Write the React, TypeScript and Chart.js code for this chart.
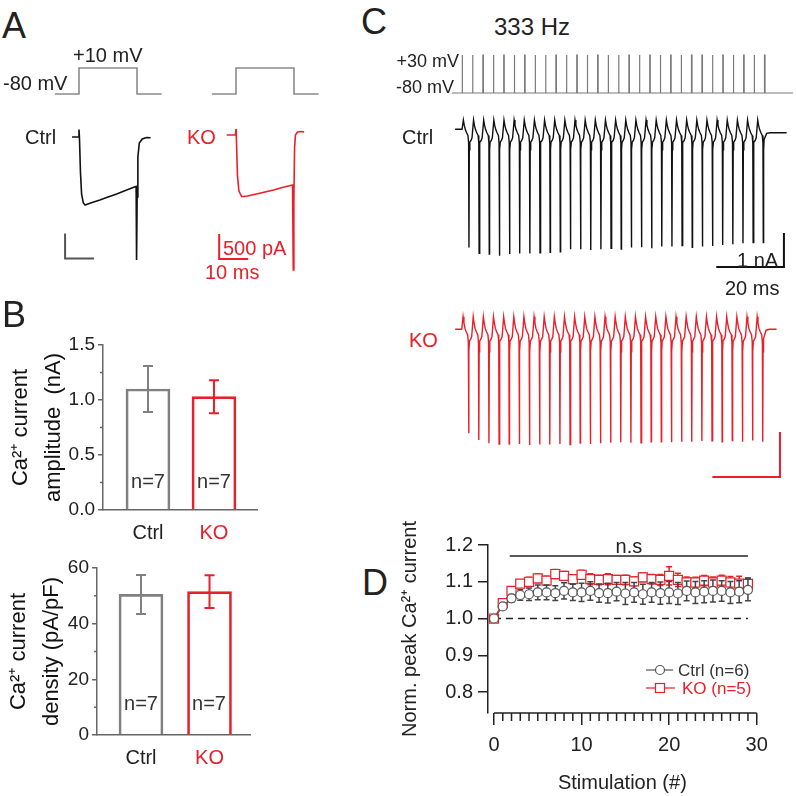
import React, { useEffect, useRef } from 'react';
import { Chart, registerables } from 'chart.js';

Chart.register(...registerables);
const FONT = "'Liberation Sans', Arial, Helvetica, sans-serif";
Chart.defaults.font.family = FONT;
Chart.defaults.color = '#222';

const RED = '#e8202a';
const GREY = '#808080';
const DARK = '#222222';

// ---------------- Panel A : single step (ms, mV, pA) ----------------
const STEP_A_MS = [-8.3, 0, 0, 20, 20, 28.5];
const STEP_A_MV = [-80, -80, 10, 10, -80, -80];
const CTRL_A_MS = [-2.4, -0.2, 0, 0.15, 0.5, 0.9, 1.5, 2.1, 4, 7.2, 10, 13, 16, 19.3, 19.7, 19.85, 20.05, 20.3, 20.8, 21.8, 23.3, 24.7];
const CTRL_A_PA = [0, 0, 150, 0, -700, -1150, -1320, -1360, -1320, -1260, -1200, -1140, -1070, -995, -990, -2460, -1200, -400, -120, -40, -10, -15];
const KO_A_MS = [-3.2, -0.2, 0, 0.1, 0.5, 1.0, 2.0, 4, 7, 10, 13, 16, 19.5, 19.6, 19.75, 19.95, 20.2, 20.5, 21.2, 22.5, 23.5];
const KO_A_PA = [0, 0, 120, 0, -800, -1120, -1235, -1220, -1180, -1140, -1100, -1050, -1000, -1000, -2700, -1300, -250, 0, 60, 70, 60];
const SCALE_A_MS = 10;
const SCALE_A_PA = 500;
const CTRL_A_BAR = [-4.8, -2430];
const KO_A_BAR = [-5.8, -2480];

// ---------------- Panel B : bar summaries ----------------
const GROUPS = ['Ctrl', 'KO'];
const AMP_NA = [1.10, 1.03];
const AMP_SEM = [0.21, 0.15];
const DENSITY = [50.5, 51.5];
const DENSITY_SEM = [7.0, 5.9];
const N_CELLS = [7, 7];
const AMP_TICKS = [0, 0.5, 1.0, 1.5];
const AMP_MINOR = [0.25, 0.75, 1.25];
const DENS_TICKS = [0, 20, 40, 60];
const DENS_MINOR = [10, 30, 50];

// ---------------- Panel C : 333 Hz train ----------------
const PULSE_MS = [0, 3, 6, 9, 12, 15, 18, 21, 24, 27, 30, 33, 36, 39, 42, 45, 48, 51, 54, 57, 60, 63, 66, 69, 72, 75, 78, 81, 84, 87];
const PULSE_WIDTH_MS = 0.15;
const STIM_LEVELS_MV = [-80, 30];
const STIM_SPAN_MS = [-2.9, 95.2];
const CYCLE_MS = [0.35, 0.6, 0.9, 1.3, 1.7, 1.9, 2.0, 2.1, 2.25, 2.6, 2.9];
const SPIKE_INDEX = 6;
const CTRL_CYCLE_NA = [0.27, 0.12, 0.0, -0.1, -0.18, -0.4, 0, -0.6, -0.38, -0.33, -0.25];
const KO_CYCLE_NA = [0.28, 0.14, 0.02, -0.06, -0.12, -0.3, 0, -0.5, -0.26, -0.22, -0.16];
const CTRL_C_PEAK_NA = [3.48, 3.65, 3.67, 3.72, 3.67, 3.65, 3.65, 3.63, 3.62, 3.60, 3.53, 3.53, 3.55, 3.53, 3.50, 3.52, 3.48, 3.47, 3.50, 3.45, 3.45, 3.42, 3.47, 3.45, 3.43, 3.40, 3.38, 3.35, 3.33, 3.33];
const KO_C_PEAK_NA = [2.31, 2.46, 2.53, 2.55, 2.55, 2.55, 2.57, 2.56, 2.56, 2.55, 2.56, 2.53, 2.55, 2.53, 2.52, 2.51, 2.52, 2.52, 2.50, 2.50, 2.51, 2.50, 2.50, 2.48, 2.48, 2.50, 2.47, 2.50, 2.47, 2.50];
const TAIL_MS = [0.1, 0.25, 1.0, 2.0];
const CTRL_TAIL_NA = [-0.6, -0.3, -0.12, -0.1];
const KO_TAIL_NA = [-0.5, -0.2, -0.02, 0.0];
const CTRL_C_SPAN_MS = [-2.1, 95.9];
const KO_C_SPAN_MS = [-2.0, 93.1];
const SCALE_C_MS = 20;
const SCALE_C_NA = 1;
const CTRL_C_BAR = [95.1, -4.05];
const KO_C_BAR = [94.1, -3.28];

// ---------------- Panel D : normalised peak current ----------------
const STIM_N = [0, 1, 2, 3, 4, 5, 6, 7, 8, 9, 10, 11, 12, 13, 14, 15, 16, 17, 18, 19, 20, 21, 22, 23, 24, 25, 26, 27, 28, 29];
const CTRL_D = [1.000, 1.033, 1.055, 1.064, 1.066, 1.071, 1.071, 1.069, 1.075, 1.071, 1.071, 1.075, 1.069, 1.069, 1.073, 1.068, 1.071, 1.066, 1.071, 1.069, 1.071, 1.068, 1.075, 1.071, 1.073, 1.075, 1.075, 1.071, 1.073, 1.078];
const CTRL_D_SEM = [0, 0.004, 0.01, 0.014, 0.017, 0.02, 0.02, 0.02, 0.022, 0.022, 0.025, 0.025, 0.025, 0.027, 0.025, 0.03, 0.027, 0.027, 0.027, 0.03, 0.03, 0.03, 0.027, 0.03, 0.03, 0.03, 0.028, 0.03, 0.03, 0.03];
const KO_D = [1.000, 1.042, 1.075, 1.095, 1.100, 1.109, 1.103, 1.121, 1.116, 1.107, 1.119, 1.107, 1.105, 1.107, 1.105, 1.105, 1.101, 1.112, 1.107, 1.105, 1.116, 1.105, 1.098, 1.098, 1.103, 1.098, 1.103, 1.098, 1.095, 1.094];
const KO_D_SEM = [0, 0.006, 0.01, 0.01, 0.012, 0.012, 0.012, 0.012, 0.012, 0.012, 0.012, 0.015, 0.013, 0.015, 0.012, 0.013, 0.012, 0.012, 0.013, 0.015, 0.025, 0.018, 0.015, 0.014, 0.014, 0.015, 0.015, 0.016, 0.02, 0.017];
const D_Y_TICKS = [0.8, 0.9, 1.0, 1.1, 1.2];
const D_X_TICKS = [0, 10, 20, 30];
const D_BASELINE = 1.0;
const NS_SPAN = [1.8, 29];
const NS_LEVEL = 1.17;
const D_LEGEND = ['Ctrl (n=6)', 'KO (n=5)'];

// ---------------- helpers ----------------
type Box = [number, number, number, number];
type Pt = { x: number; y: number };

const pts = (xs: number[], ys: number[]): Pt[] => xs.map((x, i) => ({ x, y: ys[i] }));

function axisRange(start: number, len: number, anchorPx: number, anchorVal: number, k: number, vertical: boolean) {
  if (!vertical) {
    const min = anchorVal - (anchorPx - start) / k;
    return { min, max: min + len / k };
  }
  const max = anchorVal + (anchorPx - start) / k;
  return { min: max - len / k, max };
}

function line(data: Pt[], color: string, width: number, yAxisID: string, extra: any = {}) {
  return { data, showLine: true, pointRadius: 0, borderColor: color, backgroundColor: color, borderWidth: width, yAxisID, clip: false, tension: 0, fill: false, ...extra };
}

function traceChart(box: Box, xa: [number, number, number], ya: Record<string, [number, number, number]>, datasets: any[]) {
  const [l, t, w, h] = box;
  const xr = axisRange(l, w, xa[0], xa[1], xa[2], false);
  const scales: any = { x: { type: 'linear', display: false, min: xr.min, max: xr.max } };
  Object.keys(ya).forEach((id) => {
    const [py, v, k] = ya[id];
    const r = axisRange(t, h, py, v, k, true);
    scales[id] = { type: 'linear', display: false, min: r.min, max: r.max };
  });
  return {
    type: 'scatter',
    data: { datasets },
    options: {
      responsive: false, maintainAspectRatio: false, animation: false, events: [],
      layout: { padding: 0 },
      plugins: { legend: { display: false }, tooltip: { enabled: false } },
      scales,
    },
  };
}

function drawErr(chart: any, index: number, phase: string) {
  const ds: any = chart.data.datasets[index];
  if (!ds.errors || (ds.errorPhase || 'after') !== phase) return;
  const meta = chart.getDatasetMeta(index);
  const ys = chart.scales[meta.yAxisID];
  const ctx = chart.ctx;
  ctx.save();
  meta.data.forEach((el: any, i: number) => {
    const d = ds.data[i];
    const v = typeof d === 'object' ? d.y : d;
    const e = ds.errors[i];
    if (!e) return;
    const col = Array.isArray(ds.errorColor) ? ds.errorColor[i] : ds.errorColor;
    const y1 = ys.getPixelForValue(v + e);
    const y2 = ys.getPixelForValue(v - e);
    const c = ds.capHalf || 4;
    ctx.strokeStyle = col;
    ctx.lineWidth = ds.errorWidth || 1.5;
    ctx.beginPath();
    ctx.moveTo(el.x, y1); ctx.lineTo(el.x, y2);
    ctx.moveTo(el.x - c, y1); ctx.lineTo(el.x + c, y1);
    ctx.moveTo(el.x - c, y2); ctx.lineTo(el.x + c, y2);
    ctx.stroke();
  });
  ctx.restore();
}

const errorBarPlugin = {
  id: 'errorBars',
  beforeDatasetDraw(chart: any, args: any) { drawErr(chart, args.index, 'before'); },
  afterDatasetDraw(chart: any, args: any) { drawErr(chart, args.index, 'after'); },
};

function minorTicks(axis: string, values: number[], length: number, color: string, width: number) {
  return {
    id: 'minor_' + axis,
    afterDraw(chart: any) {
      const s = chart.scales[axis];
      const ctx = chart.ctx;
      const ca = chart.chartArea;
      ctx.save();
      ctx.strokeStyle = color;
      ctx.lineWidth = width;
      ctx.beginPath();
      values.forEach((v) => {
        const p = s.getPixelForValue(v);
        if (s.isHorizontal()) { ctx.moveTo(p, ca.bottom); ctx.lineTo(p, ca.bottom + length); }
        else { ctx.moveTo(ca.left, p); ctx.lineTo(ca.left - length, p); }
      });
      ctx.stroke();
      ctx.restore();
    },
  };
}

// ---------------- chart builders ----------------
const BOX_A_CTRL: Box = [40, 45, 135, 235];
const BOX_A_KO: Box = [195, 45, 140, 235];
const BOX_B_TOP: Box = [0, 290, 270, 250];
const BOX_B_BOT: Box = [0, 545, 270, 251];
const BOX_C_STIM: Box = [445, 40, 351, 65];
const BOX_C_CTRL: Box = [445, 105, 351, 175];
const BOX_C_KO: Box = [445, 300, 351, 185];
const BOX_D: Box = [390, 520, 406, 276];

function makeA(isKO: boolean) {
  const box = isKO ? BOX_A_KO : BOX_A_CTRL;
  const corner = isKO ? KO_A_BAR : CTRL_A_BAR;
  const bar = [
    { x: corner[0], y: corner[1] + SCALE_A_PA },
    { x: corner[0], y: corner[1] },
    { x: corner[0] + SCALE_A_MS, y: corner[1] },
  ];
  return traceChart(
    box,
    [isKO ? 236 : 79, 0, 2.9],
    { y: [isKO ? 135 : 137, 0, 0.05], yv: [94, -80, 26 / 90] },
    [
      line(pts(STEP_A_MS, STEP_A_MV), '#8a8a8a', 1.6, 'yv'),
      line(isKO ? pts(KO_A_MS, KO_A_PA) : pts(CTRL_A_MS, CTRL_A_PA), isKO ? RED : '#111', 1.6, 'y'),
      line(bar, isKO ? RED : '#555', 2, 'y'),
    ],
  );
}

function stimPoints(): Pt[] {
  const [lo, hi] = STIM_LEVELS_MV;
  const p: Pt[] = [{ x: STIM_SPAN_MS[0], y: lo }];
  PULSE_MS.forEach((t) => {
    p.push({ x: t, y: lo }, { x: t, y: hi }, { x: t + PULSE_WIDTH_MS, y: hi }, { x: t + PULSE_WIDTH_MS, y: lo });
  });
  p.push({ x: STIM_SPAN_MS[1], y: lo });
  return p;
}

function trainPoints(peaks: number[], shape: number[], span: number[], tail: number[]): Pt[] {
  const p: Pt[] = [{ x: span[0], y: 0 }, { x: PULSE_MS[0] - 0.05, y: 0 }];
  PULSE_MS.forEach((t, k) => {
    const last = k === PULSE_MS.length - 1;
    CYCLE_MS.forEach((dt, j) => {
      if (last && j > SPIKE_INDEX) return;
      p.push({ x: t + dt, y: j === SPIKE_INDEX ? -peaks[k] : shape[j] });
    });
  });
  const ls = PULSE_MS[PULSE_MS.length - 1] + CYCLE_MS[SPIKE_INDEX];
  TAIL_MS.forEach((dt, i) => p.push({ x: ls + dt, y: tail[i] }));
  p.push({ x: span[1], y: tail[tail.length - 1] });
  return p;
}

function makeStim() {
  return traceChart(BOX_C_STIM, [462, 0, 3.477], { y: [93, -80, 0.3455] }, [line(stimPoints(), '#7a7a7a', 1.2, 'y')]);
}

function makeTrain(isKO: boolean) {
  const corner = isKO ? KO_C_BAR : CTRL_C_BAR;
  const col = isKO ? RED : '#111';
  const bar = [
    { x: corner[0], y: corner[1] + SCALE_C_NA },
    { x: corner[0], y: corner[1] },
    { x: corner[0] - SCALE_C_MS, y: corner[1] },
  ];
  const data = isKO
    ? trainPoints(KO_C_PEAK_NA, KO_CYCLE_NA, KO_C_SPAN_MS, KO_TAIL_NA)
    : trainPoints(CTRL_C_PEAK_NA, CTRL_CYCLE_NA, CTRL_C_SPAN_MS, CTRL_TAIL_NA);
  return traceChart(
    isKO ? BOX_C_KO : BOX_C_CTRL,
    isKO ? [461.9, 0, 3.38] : [462.2, 0, 3.383],
    { y: isKO ? [329.3, 0, 45] : [129.3, 0, 34] },
    [line(data, col, 1.4, 'y'), line(bar, col, 2, 'y')],
  );
}

function makeBar(o: {
  box: Box; means: number[]; sems: number[]; yMax: number; yTicks: number[]; yMinor: number[];
  fmt: (v: number) => string; title: string[]; xMin: number; xMax: number;
  area: [number, number, number, number]; titlePad: number;
}) {
  const [l, t, w, h] = o.box;
  const [aL, aT, aR, aB] = o.area;
  return {
    type: 'bar',
    data: {
      datasets: [{
        data: o.means.map((m, i) => ({ x: i + 1, y: m })),
        backgroundColor: 'rgba(255,255,255,0)',
        borderColor: [GREY, RED],
        borderWidth: 2,
        barThickness: 44,
        errors: o.sems,
        errorColor: [GREY, RED],
        errorWidth: 2,
        capHalf: 5,
      }],
    },
    options: {
      responsive: false, maintainAspectRatio: false, animation: false, events: [],
      layout: { padding: { left: 0, top: aT - t, right: l + w - aR, bottom: 0 } },
      plugins: { legend: { display: false }, tooltip: { enabled: false } },
      scales: {
        x: {
          type: 'linear', offset: false, min: o.xMin, max: o.xMax,
          afterBuildTicks: (s: any) => { s.ticks = GROUPS.map((_, i) => ({ value: i + 1 })); },
          ticks: {
            callback: (v: any) => GROUPS[Math.round(v) - 1],
            font: { size: 20 },
            color: (c: any) => (c.tick && c.tick.value === 2 ? RED : DARK),
            padding: 11, maxRotation: 0, autoSkip: false,
          },
          grid: { display: false, drawTicks: false },
          border: { display: true, color: '#666', width: 1.5 },
          afterFit: (s: any) => { s.height = t + h - aB; },
        },
        y: {
          type: 'linear', min: 0, max: o.yMax,
          afterBuildTicks: (s: any) => { s.ticks = o.yTicks.map((v) => ({ value: v })); },
          ticks: { callback: (v: any) => o.fmt(v), font: { size: 19 }, color: DARK, padding: 3 },
          grid: { drawOnChartArea: false, drawTicks: true, tickLength: 5, color: '#666', lineWidth: 1.5 },
          border: { display: true, color: '#666', width: 1.5 },
          title: { display: true, text: o.title, font: { size: 22, lineHeight: 1.5 }, color: '#111', padding: { top: o.titlePad, bottom: 0 } },
          afterFit: (s: any) => { s.width = aL - l; },
        },
      },
    },
    plugins: [errorBarPlugin, minorTicks('y', o.yMinor, 3, '#666', 1.5)],
  };
}

function makeD() {
  const [l, t, w, h] = BOX_D;
  const aL = 488, aT = 545, aR = 756.7, aB = 713;
  const decor = {
    id: 'panelD',
    afterDraw(chart: any) {
      const ctx = chart.ctx;
      const xs = chart.scales.x, ys = chart.scales.y;
      const ca = chart.chartArea;
      ctx.save();
      ctx.strokeStyle = DARK; ctx.lineWidth = 1.5;
      ctx.beginPath();
      ctx.moveTo(xs.getPixelForValue(D_X_TICKS[0]), ca.bottom);
      ctx.lineTo(xs.getPixelForValue(D_X_TICKS[D_X_TICKS.length - 1]), ca.bottom);
      STIM_N.forEach((n) => {
        if (n % 10 === 0) return;
        const x = xs.getPixelForValue(n);
        ctx.moveTo(x, ca.bottom); ctx.lineTo(x, ca.bottom + 8);
      });
      ctx.stroke();
      const yN = ys.getPixelForValue(NS_LEVEL);
      ctx.beginPath();
      ctx.moveTo(xs.getPixelForValue(NS_SPAN[0]), yN);
      ctx.lineTo(xs.getPixelForValue(NS_SPAN[1]), yN);
      ctx.stroke();
      ctx.fillStyle = DARK;
      ctx.font = `20px ${FONT}`;
      ctx.textAlign = 'center'; ctx.textBaseline = 'alphabetic';
      ctx.fillText('n.s', xs.getPixelForValue((NS_SPAN[0] + NS_SPAN[1]) / 2), yN - 3);
      const lx = 646 - l;
      const rows = [670 - t, 688 - t];
      ctx.textAlign = 'left'; ctx.textBaseline = 'middle';
      ctx.font = `17px ${FONT}`;
      ctx.strokeStyle = '#555'; ctx.lineWidth = 1.2;
      ctx.beginPath(); ctx.moveTo(lx, rows[0]); ctx.lineTo(lx + 27, rows[0]); ctx.stroke();
      ctx.beginPath(); ctx.arc(lx + 14, rows[0], 4.5, 0, Math.PI * 2); ctx.fillStyle = '#fff'; ctx.fill(); ctx.stroke();
      ctx.fillStyle = '#333'; ctx.fillText(D_LEGEND[0], lx + 32, rows[0] + 1);
      ctx.strokeStyle = RED;
      ctx.beginPath(); ctx.moveTo(lx, rows[1]); ctx.lineTo(lx + 29, rows[1]); ctx.stroke();
      ctx.fillStyle = '#fff'; ctx.fillRect(lx + 9.5, rows[1] - 4.5, 9, 9); ctx.strokeRect(lx + 9.5, rows[1] - 4.5, 9, 9);
      ctx.fillStyle = RED; ctx.fillText(D_LEGEND[1], lx + 36, rows[1] + 1);
      ctx.restore();
    },
  };
  return {
    type: 'scatter',
    data: {
      datasets: [
        {
          data: pts(STIM_N, CTRL_D), showLine: true, clip: false,
          pointStyle: 'circle', pointRadius: 4.5, pointBackgroundColor: '#fff', pointBorderColor: '#555', pointBorderWidth: 1.2,
          borderColor: '#555', borderWidth: 1.2,
          errors: CTRL_D_SEM, errorColor: '#444', errorWidth: 1.5, capHalf: 3, errorPhase: 'before',
        },
        {
          data: pts(STIM_N, KO_D), showLine: true, clip: false,
          pointStyle: 'rect', pointRadius: 6.4, pointBackgroundColor: '#fff', pointBorderColor: RED, pointBorderWidth: 1.2,
          borderColor: RED, borderWidth: 1.2,
          errors: KO_D_SEM, errorColor: RED, errorWidth: 1.5, capHalf: 3, errorPhase: 'before',
        },
        {
          data: [{ x: STIM_N[0], y: D_BASELINE }, { x: STIM_N[STIM_N.length - 1], y: D_BASELINE }],
          showLine: true, pointRadius: 0, borderColor: DARK, borderWidth: 1.5, borderDash: [7, 5], clip: false,
        },
      ],
    },
    options: {
      responsive: false, maintainAspectRatio: false, animation: false, events: [],
      layout: { padding: { left: 0, top: aT - t, right: l + w - aR, bottom: 0 } },
      plugins: { legend: { display: false }, tooltip: { enabled: false } },
      scales: {
        x: {
          type: 'linear', min: -0.685, max: 30,
          afterBuildTicks: (s: any) => { s.ticks = D_X_TICKS.map((v) => ({ value: v })); },
          ticks: { font: { size: 20 }, color: DARK, padding: 8, maxRotation: 0, autoSkip: false, callback: (v: any) => String(v) },
          grid: { drawOnChartArea: false, drawTicks: true, tickLength: 12, color: DARK, lineWidth: 1.5 },
          border: { display: false },
          title: { display: true, text: 'Stimulation (#)', font: { size: 20 }, color: DARK, padding: { top: 0, bottom: 1 } },
          afterFit: (s: any) => { s.height = t + h - aB; },
        },
        y: {
          type: 'linear', min: 0.7429, max: 1.2,
          afterBuildTicks: (s: any) => { s.ticks = D_Y_TICKS.map((v) => ({ value: v })); },
          ticks: { font: { size: 20 }, color: DARK, padding: 5, callback: (v: any) => Number(v).toFixed(1) },
          grid: { drawOnChartArea: false, drawTicks: true, tickLength: 10, color: DARK, lineWidth: 1.5 },
          border: { display: true, color: DARK, width: 1.5 },
          title: { display: true, text: 'Norm. peak Ca²⁺ current', font: { size: 20 }, color: DARK, padding: { top: 8, bottom: 0 } },
          afterFit: (s: any) => { s.width = aL - l; },
        },
      },
    },
    plugins: [errorBarPlugin, decor],
  };
}

// ---------------- React ----------------
function ChartBox({ box, make }: { box: Box; make: () => any }) {
  const ref = useRef<HTMLCanvasElement>(null);
  useEffect(() => {
    const chart = new Chart(ref.current as HTMLCanvasElement, make());
    return () => chart.destroy();
  }, []);
  const [l, t, w, h] = box;
  return <canvas ref={ref} width={w} height={h} style={{ position: 'absolute', left: l, top: t, width: w, height: h }} />;
}

function Label({ text, x, cy, size, color = DARK, align = 'left' }: { text: string; x: number; cy: number; size: number; color?: string; align?: 'left' | 'center' | 'right' }) {
  const tx = align === 'center' ? 'translateX(-50%)' : align === 'right' ? 'translateX(-100%)' : undefined;
  return (
    <div style={{
      position: 'absolute', left: x, top: cy - size / 2, fontSize: size, lineHeight: 1, color,
      whiteSpace: 'nowrap', fontFamily: FONT, transform: tx,
    }}>{text}</div>
  );
}

export default function App() {
  return (
    <div style={{ position: 'absolute', left: 0, top: 0, width: 796, height: 796, background: '#fff', overflow: 'hidden' }}>
      <ChartBox box={BOX_A_CTRL} make={() => makeA(false)} />
      <ChartBox box={BOX_A_KO} make={() => makeA(true)} />
      <ChartBox box={BOX_B_TOP} make={() => makeBar({
        box: BOX_B_TOP, means: AMP_NA, sems: AMP_SEM, yMax: 1.5, yTicks: AMP_TICKS, yMinor: AMP_MINOR,
        fmt: (v) => v.toFixed(1), title: ['Ca²⁺ current', 'amplitude  (nA)'], xMin: 0.318, xMax: 2.652,
        area: [103, 345, 257, 510], titlePad: 4,
      })} />
      <ChartBox box={BOX_B_BOT} make={() => makeBar({
        box: BOX_B_BOT, means: DENSITY, sems: DENSITY_SEM, yMax: 60, yTicks: DENS_TICKS, yMinor: DENS_MINOR,
        fmt: (v) => String(v), title: ['Ca²⁺ current', 'density (pA/pF)'], xMin: 0.358, xMax: 2.591,
        area: [97, 568, 250, 735], titlePad: 2,
      })} />
      <ChartBox box={BOX_C_STIM} make={makeStim} />
      <ChartBox box={BOX_C_CTRL} make={() => makeTrain(false)} />
      <ChartBox box={BOX_C_KO} make={() => makeTrain(true)} />
      <ChartBox box={BOX_D} make={makeD} />

      <Label text="A" x={2} cy={26} size={36} />
      <Label text="+10 mV" x={73} cy={55} size={20} />
      <Label text="-80 mV" x={3} cy={83} size={20} />
      <Label text="Ctrl" x={25} cy={137} size={20} />
      <Label text="KO" x={187} cy={137} size={20} color={RED} />
      <Label text="500 pA" x={223} cy={248} size={20} color={RED} />
      <Label text="10 ms" x={205} cy={272} size={20} color={RED} />

      <Label text="B" x={2} cy={315} size={36} />
      <Label text={`n=${N_CELLS[0]}`} x={148} cy={481} size={20} color="#333" align="center" />
      <Label text={`n=${N_CELLS[1]}`} x={214} cy={481} size={20} color="#333" align="center" />
      <Label text={`n=${N_CELLS[0]}`} x={141} cy={703} size={20} color="#333" align="center" />
      <Label text={`n=${N_CELLS[1]}`} x={209} cy={703} size={20} color="#333" align="center" />

      <Label text="C" x={361} cy={22} size={36} />
      <Label text="333 Hz" x={494} cy={27} size={24} />
      <Label text="+30 mV" x={459} cy={61} size={18} align="right" />
      <Label text="-80 mV" x={454} cy={87} size={18} align="right" />
      <Label text="Ctrl" x={402} cy={137} size={20} />
      <Label text="1 nA" x={737} cy={260} size={20} />
      <Label text="20 ms" x={725} cy={288} size={20} />
      <Label text="KO" x={409} cy={340} size={20} color={RED} />

      <Label text="D" x={362} cy={583} size={36} />
    </div>
  );
}
